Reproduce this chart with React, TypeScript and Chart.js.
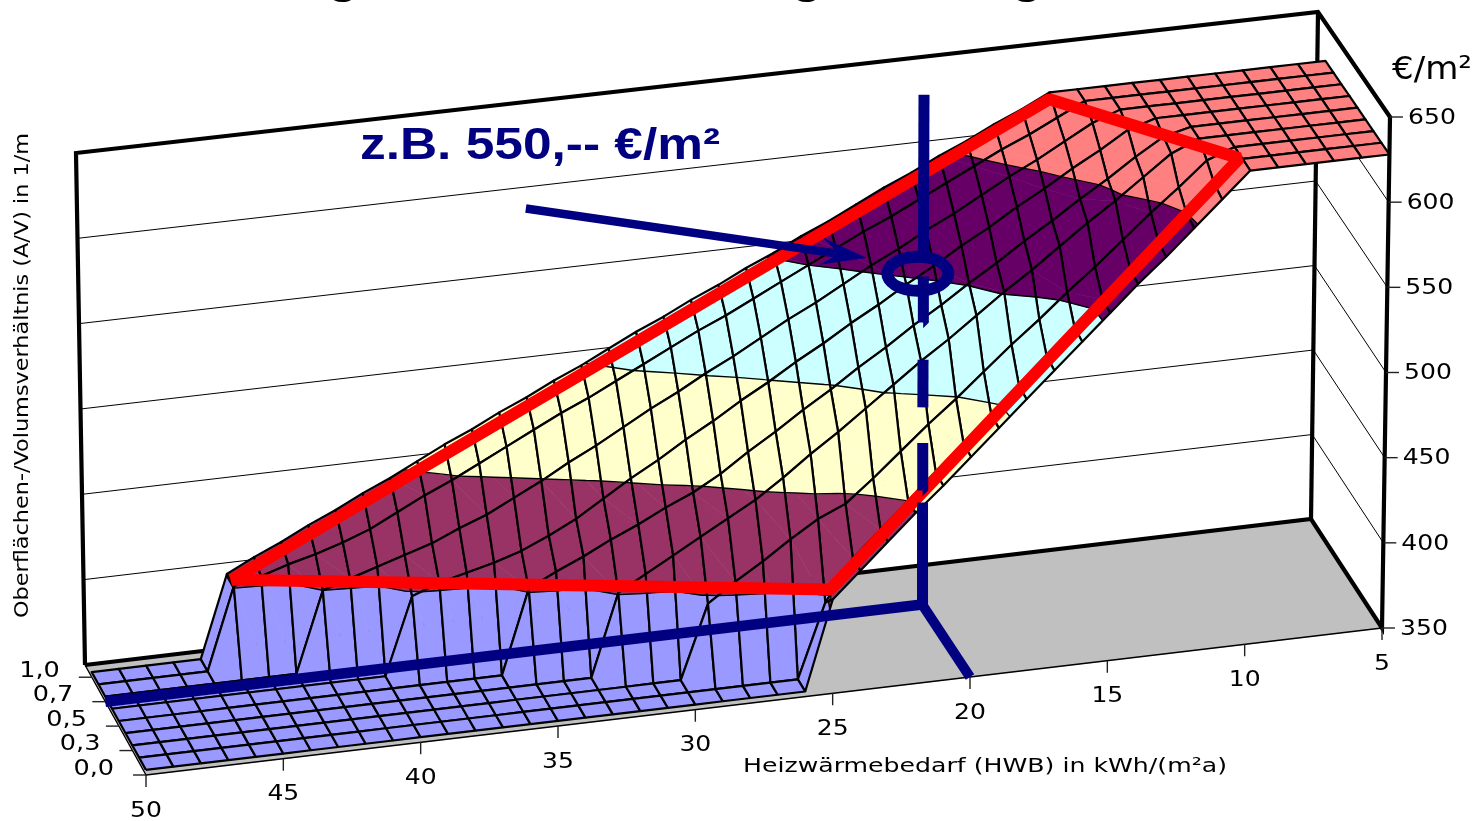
import React, { useEffect, useRef } from "react";
import { Chart, registerables } from "chart.js";

Chart.register(...registerables);

// ---------- data ----------
const hwbValues = [50,49,48,47,46,45,44,43,42,41,40,39,38,37,36,35,34,33,32,31,30,29,28,27,26,25,24,23,22,21,20,19,18,17,16,15,14,13,12,11,10,9,8,7,6,5];
const avValues = [0, 0.125, 0.25, 0.375, 0.5, 0.625, 0.75, 0.875, 1];

const costAv000 = [353,353,353,353,353,353,353,353,353,353,353,353,353,353,353,353,353,353,353,353,353,353,353,353,353,405,420,435,450,464,479,494,509,524,539,554,569,583,598,613,628,628,628,628,628,628];
const costAv125 = [353,353,353,353,353,353,353,353,353,353,353,353,353,353,353,353,353,353,353,353,353,353,353,353,353,396,420,435,450,465,480,495,510,525,540,555,570,585,600,615,628,628,628,628,628,628];
const costAv250 = [353,353,353,353,353,353,353,353,353,353,353,353,353,353,353,353,353,353,353,353,353,396,407,417,428,438,445,458,472,486,499,513,527,540,554,567,581,595,608,622,628,628,628,628,628,628];
const costAv375 = [353,353,353,353,353,353,353,353,353,353,353,353,353,353,353,353,353,353,401,410,419,428,437,446,457,469,480,492,504,516,527,539,551,562,574,586,597,609,621,628,628,628,628,628,628,628];
const costAv500 = [353,353,353,353,353,353,353,353,353,353,353,353,353,353,353,402,410,417,425,432,440,447,456,467,477,488,498,509,519,530,540,551,561,572,582,593,603,614,624,628,628,628,628,628,628,628];
const costAv625 = [353,353,353,353,353,353,353,353,353,353,353,398,404,408,412,417,424,432,442,452,461,471,480,490,499,509,518,528,537,547,556,566,575,585,594,604,613,623,628,628,628,628,628,628,628,628];
const costAv750 = [353,353,353,353,353,353,353,353,400,405,410,415,420,427,433,441,449,458,466,475,484,492,501,509,518,527,535,544,553,561,570,578,587,596,604,613,622,628,628,628,628,628,628,628,628,628];
const costAv875 = [353,353,353,353,353,401,405,410,414,419,425,433,441,448,456,464,472,480,487,495,503,511,519,526,534,542,550,558,566,573,581,589,597,605,612,620,628,628,628,628,628,628,628,628,628,628];
const costAv100 = [353,353,353,353,353,401,409,416,424,431,439,446,454,462,469,477,484,492,499,507,515,522,530,537,545,552,560,567,575,583,590,598,605,613,620,628,628,628,628,628,628,628,628,628,628,628];
const costRows = [costAv000, costAv125, costAv250, costAv375, costAv500, costAv625, costAv750, costAv875, costAv100];

const costTicks = [350, 400, 450, 500, 550, 600, 650];
const wallGridTicks = [400, 450, 500, 550, 600];
const hwbTicks = [50, 45, 40, 35, 30, 25, 20, 15, 10, 5];
const avTickRows = [0, 0.25, 0.5, 0.75, 1];
const avTickLabels = ["0,0", "0,3", "0,5", "0,7", "1,0"];

const bandLimits = [350, 400, 450, 500, 550, 600, 650];
const bandColors = ["#9999FF", "#993366", "#FFFFCC", "#CCFFFF", "#660066", "#FF8080"];

// marked area and reading example, as [HWB, A/V, cost]
const markedArea = [[44.9, 0.956, 400], [25.1, 0, 411], [10.4, 0, 636], [15, 1, 624]];
const exampleHwb = 20.1;
const exampleAv = 0.75;
const exampleDashes = [[350, 410], [417, 445], [466, 494], [516, 543], [554, 650]];
const arrowTail = [34.5, 0.75, 610];
const arrowTip = [22.2, 0.75, 558];
const ringCentre = [20.3, 0.75, 545];

const titleText = "z.B. 550,-- €/m²";
const hwbTitle = "Heizwärmebedarf (HWB) in kWh/(m²a)";
const avTitle = "Oberflächen-/Volumsverhältnis (A/V) in 1/m";
const costUnit = "€/m²";

// ---------- perspective of the 3-D box ----------
type P = { x: number; y: number };
const W = 1476;
const H = 821;
const AV_BACK = 9 / 8;

function quadMap(q: number[][]) {
  const [a, b, c, d] = q;
  return (u: number, v: number): P => ({
    x: (1 - v) * ((1 - u) * a[0] + u * b[0]) + v * ((1 - u) * d[0] + u * c[0]),
    y: (1 - v) * ((1 - u) * a[1] + u * b[1]) + v * ((1 - u) * d[1] + u * c[1]),
  });
}
const floorMap = quadMap([[146, 775], [1382, 628], [1311, 519], [85, 665]]);
const topMap = quadMap([[137, 262], [1390, 117], [1318, 12], [76, 153]]);

function project(hwb: number, av: number, cost: number): P {
  const u = (50 - hwb) / 45;
  const v = av / AV_BACK;
  const w = (cost - 350) / 300;
  const a = floorMap(u, v);
  const b = topMap(u, v);
  return { x: a.x + (b.x - a.x) * w, y: a.y + (b.y - a.y) * w };
}

// ---------- dataset helpers ----------
function lineDs(data: P[], color: string, width: number, join = "bevel", cap = "butt") {
  return {
    data, showLine: true, fill: false, pointRadius: 0, borderColor: color, borderWidth: width,
    borderJoinStyle: join, borderCapStyle: cap, tension: 0, spanGaps: false,
  };
}
function fillDs(data: P[], color: string) {
  return {
    data: [...data, data[0]], showLine: true, fill: "shape", pointRadius: 0,
    backgroundColor: color, borderColor: color, borderWidth: 0.6, tension: 0,
  };
}

type V = [number, number, number];

function clipBand(poly: V[], lo: number, hi: number): V[] {
  const clip = (pts: V[], keep: (z: number) => boolean, lim: number) => {
    const out: V[] = [];
    for (let i = 0; i < pts.length; i++) {
      const a = pts[i], b = pts[(i + 1) % pts.length];
      const ka = keep(a[2]), kb = keep(b[2]);
      if (ka) out.push(a);
      if (ka !== kb) {
        const t = (lim - a[2]) / (b[2] - a[2]);
        out.push([a[0] + (b[0] - a[0]) * t, a[1] + (b[1] - a[1]) * t, lim]);
      }
    }
    return out;
  };
  return clip(clip(poly, (z) => z >= lo, lo), (z) => z <= hi, hi);
}

function contour(tri: V[], level: number): P[] {
  const out: P[] = [];
  for (let i = 0; i < 3; i++) {
    const a = tri[i], b = tri[(i + 1) % 3];
    if ((a[2] < level) !== (b[2] < level)) {
      const t = (level - a[2]) / (b[2] - a[2]);
      out.push(project(a[0] + (b[0] - a[0]) * t, a[1] + (b[1] - a[1]) * t, level));
    }
  }
  return out;
}

function toPts(poly: V[]) {
  return poly.map((v) => project(v[0], v[1], v[2]));
}

function buildLayers() {
  const layers: any[] = [];
  const gap: P = { x: NaN, y: NaN };

  // floor
  const fl = [project(50, 0, 350), project(5, 0, 350), project(5, AV_BACK, 350), project(50, AV_BACK, 350)];
  layers.push(fillDs(fl, "#C0C0C0"));
  layers.push(lineDs([fl[3], fl[0], fl[1]], "#000000", 1.4));

  // wall grid lines
  for (const z of wallGridTicks) {
    layers.push(lineDs([project(50, AV_BACK, z), project(5, AV_BACK, z), project(5, 0, z)], "#000000", 1));
  }
  // box frame
  layers.push(lineDs([project(50, AV_BACK, 350), project(50, AV_BACK, 650), project(5, AV_BACK, 650), project(5, 0, 650), project(5, 0, 350), project(5, AV_BACK, 350), project(50, AV_BACK, 350)], "#000000", 4.2, "miter"));
  layers.push(lineDs([project(5, AV_BACK, 650), project(5, AV_BACK, 350)], "#000000", 4.2));

  // ticks
  for (const z of costTicks) {
    const p = project(5, 0, z);
    layers.push(lineDs([p, { x: p.x + 13, y: p.y }], "#222222", 1.4));
  }
  for (const h of hwbTicks) {
    const p = project(h, 0, 350);
    layers.push(lineDs([p, { x: p.x, y: p.y + 12 }], "#222222", 1.4));
  }
  for (const a of avTickRows) {
    const p = project(50, a, 350);
    layers.push(lineDs([p, { x: p.x - 13, y: p.y }], "#222222", 1.4));
  }

  // surface, painted back to front
  const nH = hwbValues.length;
  const centre = 27;
  const cols = Array.from({ length: nH - 1 }, (_, i) => i).sort(
    (a, b) => Math.abs(hwbValues[b] - centre) - Math.abs(hwbValues[a] - centre)
  );
  for (let r = avValues.length - 2; r >= 0; r--) {
    for (const c of cols) {
      const vv = (cc: number, rr: number): V => [hwbValues[cc], avValues[rr], costRows[rr][cc]];
      const a = vv(c, r), b = vv(c + 1, r), d = vv(c + 1, r + 1), e = vv(c, r + 1);
      const quad = [a, b, d, e];
      const zs = quad.map((q) => q[2]);
      const zMin = Math.min(...zs), zMax = Math.max(...zs);
      const bi = (z: number) => {
        for (let i = 0; i < bandColors.length; i++) if (z <= bandLimits[i + 1]) return i;
        return bandColors.length - 1;
      };
      if (bi(zMin) === bi(zMax)) {
        layers.push(fillDs(toPts(quad), bandColors[bi(zMin)]));
      } else {
        const tris: V[][] = [[a, b, e], [b, d, e]];
        const segs: P[] = [];
        for (const t of tris) {
          for (let i = 0; i < bandColors.length; i++) {
            const part = clipBand(t, bandLimits[i], bandLimits[i + 1]);
            if (part.length >= 3) layers.push(fillDs(toPts(part), bandColors[i]));
          }
          for (let i = 1; i < bandLimits.length - 1; i++) {
            const s = contour(t, bandLimits[i]);
            if (s.length === 2) segs.push(s[0], s[1], gap);
          }
        }
        if (segs.length) layers.push(lineDs(segs, "#000000", 1.4));
      }
      const o = toPts(quad);
      layers.push(lineDs([...o, o[0]], "#000000", 2.2, "round"));
    }
  }

  // marked area
  const m = markedArea.map((p) => project(p[0], p[1], p[2]));
  layers.push(lineDs([...m, m[0], m[1]], "#FF0000", 12, "bevel"));

  // reading example
  layers.push(lineDs([project(50, exampleAv, 350), project(exampleHwb, exampleAv, 350)], "#000080", 10.5));
  layers.push(lineDs([project(exampleHwb, exampleAv, 350), project(20, 0, 350)], "#000080", 10));
  for (const [z0, z1] of exampleDashes) {
    layers.push(lineDs([project(exampleHwb, exampleAv, z0), project(exampleHwb, exampleAv, z1)], "#000080", 11));
  }
  const tail = project(arrowTail[0], arrowTail[1], arrowTail[2]);
  const tip = project(arrowTip[0], arrowTip[1], arrowTip[2]);
  const len = Math.hypot(tip.x - tail.x, tip.y - tail.y);
  const dx = (tip.x - tail.x) / len, dy = (tip.y - tail.y) / len;
  const at = (back: number, side: number): P => ({
    x: tip.x - dx * back - dy * side,
    y: tip.y - dy * back + dx * side,
  });
  layers.push(lineDs([tail, at(20, 0)], "#000080", 8.5));
  layers.push(fillDs([tip, at(44, 13), at(26, 0), at(44, -13)], "#000080"));

  return layers.reverse(); // Chart.js paints the first dataset last
}

// ---------- text and the ring ----------
function stretched(
  ctx: CanvasRenderingContext2D, text: string, x: number, y: number, font: string,
  opts: { sx?: number; fit?: number; align?: CanvasTextAlign; rot?: boolean; sy?: number; color?: string; base?: CanvasTextBaseline } = {}
) {
  ctx.save();
  ctx.font = font;
  ctx.fillStyle = opts.color || "#000000";
  ctx.textAlign = opts.align || "left";
  ctx.textBaseline = opts.base || "middle";
  ctx.translate(x, y);
  if (opts.rot) ctx.rotate(-Math.PI / 2);
  const sx = opts.fit ? opts.fit / ctx.measureText(text).width : opts.sx || 1;
  ctx.scale(sx, opts.sy || 1);
  ctx.fillText(text, 0, 0);
  ctx.restore();
}

const overlayPlugin = {
  id: "overlay",
  afterDatasetsDraw(chart: any) {
    const ctx: CanvasRenderingContext2D = chart.ctx;
    const AXIS = "22px 'DejaVu Sans'";

    // ring
    const c = project(ringCentre[0], ringCentre[1], ringCentre[2]);
    ctx.save();
    ctx.fillStyle = "#000080";
    ctx.beginPath();
    ctx.ellipse(c.x, c.y, 36.5, 23, 0, 0, Math.PI * 2);
    ctx.ellipse(c.x, c.y, 24.5, 11, 0, 0, Math.PI * 2);
    ctx.fill("evenodd");
    ctx.restore();

    for (const z of costTicks) {
      const p = project(5, 0, z);
      stretched(ctx, String(z), p.x + 18, p.y + 1, AXIS, { sx: 1.14 });
    }
    for (const h of hwbTicks) {
      const p = project(h, 0, 350);
      stretched(ctx, String(h), p.x, p.y + 36, AXIS, { sx: 1.14, align: "center" });
    }
    avTickRows.forEach((a, i) => {
      const p = project(50, a, 350);
      stretched(ctx, avTickLabels[i], p.x - 32, p.y - 6, AXIS, { sx: 1.16, align: "right" });
    });

    stretched(ctx, hwbTitle, 743, 767, "20px 'DejaVu Sans'", { fit: 484 });
    stretched(ctx, avTitle, 23, 618, "20px 'DejaVu Sans'", { fit: 485, rot: true });
    stretched(ctx, costUnit, 1392, 79, "32px 'DejaVu Sans'", { fit: 80, base: "alphabetic" });
    stretched(ctx, titleText, 360, 159, "bold 44px 'Liberation Sans'", { fit: 360, base: "alphabetic", color: "#000080" });

    // the chart title is cut off by the top edge of the picture: only descenders remain
    for (const x of [343, 807, 1027]) {
      stretched(ctx, "g", x, -7, "bold 44px 'Liberation Sans'", { sx: 1.12, align: "center", base: "alphabetic" });
    }
  },
};

export default function App() {
  const ref = useRef<HTMLCanvasElement>(null);
  useEffect(() => {
    const chart = new Chart(ref.current as HTMLCanvasElement, {
      type: "scatter",
      data: { datasets: buildLayers() },
      options: {
        animation: false,
        responsive: false,
        devicePixelRatio: 1,
        layout: { padding: 0 },
        events: [],
        scales: {
          x: { type: "linear", min: 0, max: W, display: false },
          y: { type: "linear", min: 0, max: H, reverse: true, display: false },
        },
        plugins: { legend: { display: false }, tooltip: { enabled: false }, title: { display: false } },
      },
      plugins: [overlayPlugin],
    } as any);
    return () => chart.destroy();
  }, []);
  return (
    <div style={{ position: "fixed", left: 0, top: 0, width: W, height: H, background: "#ffffff" }}>
      <canvas ref={ref} width={W} height={H} style={{ display: "block" }} />
    </div>
  );
}
